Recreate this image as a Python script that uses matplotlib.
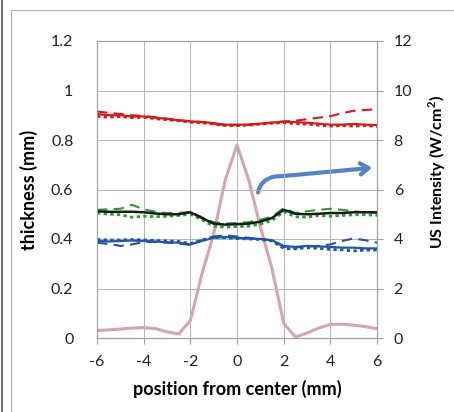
import numpy as np
import matplotlib.pyplot as plt
from matplotlib.patches import FancyArrowPatch, Rectangle
from matplotlib.path import Path

plt.rcParams['font.family'] = ['Lato', 'DejaVu Sans']
plt.rcParams['axes.unicode_minus'] = False

# positions (mm), 0.5 mm steps
pos = np.arange(-6, 6.01, 0.5)

# thickness (mm)
red_solid = [0.905, 0.900, 0.900, 0.895, 0.895, 0.890, 0.885, 0.880, 0.875, 0.873, 0.868, 0.862, 0.862,
             0.862, 0.866, 0.870, 0.874, 0.872, 0.870, 0.866, 0.862, 0.862, 0.865, 0.862, 0.860]
red_dash = [0.915, 0.910, 0.905, 0.900, 0.897, 0.892, 0.886, 0.880, 0.876, 0.872, 0.866, 0.860, 0.860,
            0.862, 0.866, 0.870, 0.875, 0.878, 0.884, 0.890, 0.896, 0.908, 0.918, 0.921, 0.925]
red_dot = [0.895, 0.892, 0.895, 0.890, 0.892, 0.886, 0.882, 0.878, 0.872, 0.870, 0.864, 0.858, 0.858,
           0.860, 0.864, 0.868, 0.870, 0.866, 0.864, 0.860, 0.856, 0.858, 0.856, 0.858, 0.855]

black_solid = [0.512, 0.510, 0.510, 0.510, 0.508, 0.503, 0.500, 0.500, 0.508, 0.485, 0.462, 0.458, 0.460,
               0.462, 0.470, 0.485, 0.518, 0.502, 0.500, 0.502, 0.505, 0.505, 0.508, 0.508, 0.508]
green_dash = [0.518, 0.520, 0.522, 0.538, 0.520, 0.510, 0.505, 0.505, 0.510, 0.488, 0.468, 0.462, 0.465,
              0.468, 0.478, 0.490, 0.525, 0.505, 0.512, 0.518, 0.522, 0.518, 0.512, 0.508, 0.505]
green_dot = [0.505, 0.500, 0.498, 0.488, 0.492, 0.490, 0.492, 0.495, 0.500, 0.478, 0.452, 0.448, 0.450,
             0.452, 0.460, 0.475, 0.510, 0.490, 0.488, 0.495, 0.492, 0.495, 0.498, 0.498, 0.496]

blue_solid = [0.392, 0.390, 0.392, 0.394, 0.392, 0.390, 0.387, 0.385, 0.378, 0.392, 0.405, 0.408, 0.405,
              0.402, 0.400, 0.395, 0.372, 0.368, 0.372, 0.370, 0.368, 0.365, 0.365, 0.362, 0.362]
blue_dash = [0.385, 0.380, 0.372, 0.378, 0.388, 0.388, 0.385, 0.382, 0.376, 0.395, 0.410, 0.415, 0.410,
             0.405, 0.400, 0.395, 0.368, 0.365, 0.370, 0.372, 0.378, 0.392, 0.402, 0.395, 0.385]
blue_dot = [0.398, 0.396, 0.396, 0.398, 0.396, 0.394, 0.392, 0.390, 0.382, 0.396, 0.408, 0.405, 0.402,
            0.400, 0.398, 0.392, 0.362, 0.360, 0.365, 0.362, 0.358, 0.356, 0.352, 0.355, 0.355]

# ultrasound intensity (W/cm2)
intensity = [0.30, 0.33, 0.36, 0.40, 0.42, 0.38, 0.25, 0.16, 0.70, 2.60, 4.20, 6.40, 7.80,
             6.40, 4.50, 2.80, 0.60, 0.04, 0.20, 0.40, 0.55, 0.56, 0.52, 0.46, 0.38]

fig = plt.figure(figsize=(4.54, 4.12), dpi=100)
ax = fig.add_axes([97 / 454, 1 - 338 / 412, 280 / 454, 297 / 412])

# frame around the figure
fig.patches.append(Rectangle((11 / 454, -0.1), 1.2, 1.1 - 10 / 412, transform=fig.transFigure,
                             fill=False, edgecolor='#b0b0b0', linewidth=0.8))
fig.lines.append(plt.Line2D([2 / 454, 2 / 454], [0, 1], transform=fig.transFigure,
                            color='#555555', linewidth=1.2))

ax2 = ax.twinx()
ax2.plot(pos, intensity, color='#d4a5b0', linewidth=2.2, zorder=1)
ax2.set_ylim(0, 12)
ax2.set_yticks(np.arange(0, 13, 2))
ax2.set_ylabel('US Intensity (W/cm$^\\mathregular{2}$)', fontsize=11.5, fontweight='bold')
ax2.yaxis.set_label_coords(1.175, 0.56)

ax.set_zorder(ax2.get_zorder() + 1)
ax.patch.set_visible(False)

red = '#d01c1c'
green = '#2a9a34'
blue = '#1f55a5'
ax.plot(pos, red_dash, color=red, linestyle=(0, (5, 3)), linewidth=1.5)
ax.plot(pos, red_dot, color=red, linestyle=(0, (1.2, 1.2)), linewidth=2)
ax.plot(pos, red_solid, color=red, linewidth=1.6)
ax.plot(pos, green_dash, color=green, linestyle=(0, (5, 3)), linewidth=1.5)
ax.plot(pos, green_dot, color=green, linestyle=(0, (1.2, 1.2)), linewidth=2)
ax.plot(pos, black_solid, color='#1a1a1a', linewidth=1.8)
ax.plot(pos, blue_dash, color=blue, linestyle=(0, (5, 3)), linewidth=1.5)
ax.plot(pos, blue_dot, color=blue, linestyle=(0, (1.2, 1.2)), linewidth=2)
ax.plot(pos, blue_solid, color=blue, linewidth=1.6)

# arrow pointing to the right axis
verts = [(0.9, 0.588), (1.0, 0.64), (1.6, 0.652), (2.4, 0.658), (4.0, 0.672), (5.8, 0.688)]
codes = [Path.MOVETO, Path.CURVE3, Path.CURVE3, Path.LINETO, Path.LINETO, Path.LINETO]
arrow = FancyArrowPatch(path=Path(verts, codes), arrowstyle='->,head_length=6,head_width=4',
                        color='#5584c2', linewidth=3)
ax.add_patch(arrow)

ax.set_xlim(-6, 6)
ax.set_ylim(0, 1.2)
ax.set_xticks(np.arange(-6, 7, 2))
ax.set_yticks(np.arange(0, 1.21, 0.2))
ax.set_yticklabels(['0', '0.2', '0.4', '0.6', '0.8', '1', '1.2'])
ax.grid(True, color='#b4b4b4', linewidth=0.7)
ax.set_xlabel('position from center (mm)', fontsize=13, fontweight='bold', labelpad=8)
ax.set_ylabel('thickness (mm)', fontsize=13, fontweight='bold')
ax.yaxis.set_label_coords(-0.21, 0.5)

for a in (ax, ax2):
    for s in a.spines.values():
        s.set_color('#a0a0a0')
    a.tick_params(colors='#a0a0a0', labelcolor='#222222', labelsize=11.5, length=4)
ax.tick_params(axis='y', length=0, pad=17)
ax.tick_params(axis='x', pad=8)
ax2.tick_params(axis='y', pad=8)

fig.savefig('out.png', dpi=100)
